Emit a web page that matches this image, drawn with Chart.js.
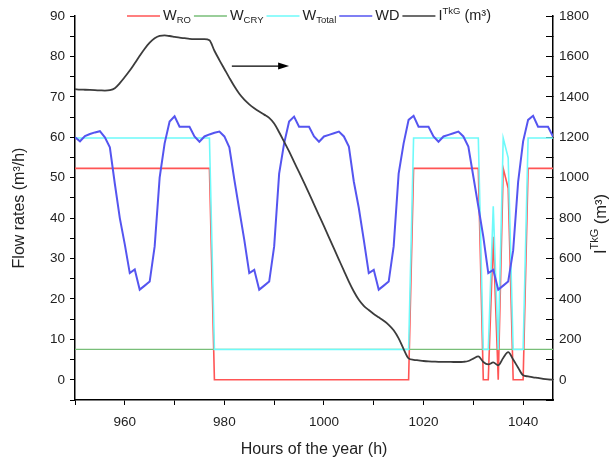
<!DOCTYPE html>
<html>
<head>
<meta charset="utf-8">
<script src="https://cdn.jsdelivr.net/npm/chart.js@4.4.0/dist/chart.umd.min.js"></script>
<style>
  html, body { margin: 0; padding: 0; background: #fff; }
</style>
</head>
<body>
<canvas id="chart" width="612" height="457"></canvas>
<script>
// Hours of the year (x values)
const hours = [
  950, 951, 952, 953, 954, 955, 956, 957, 958, 959,
  960, 961, 962, 963, 964, 965, 966, 967, 968, 969,
  970, 971, 972, 973, 974, 975, 976, 977, 978, 979,
  980, 981, 982, 983, 984, 985, 986, 987, 988, 989,
  990, 991, 992, 993, 994, 995, 996, 997, 998, 999,
  1000, 1001, 1002, 1003, 1004, 1005, 1006, 1007, 1008, 1009,
  1010, 1011, 1012, 1013, 1014, 1015, 1016, 1017, 1018, 1019,
  1020, 1021, 1022, 1023, 1024, 1025, 1026, 1027, 1028, 1029,
  1030, 1031, 1032, 1033, 1034, 1035, 1036, 1037, 1038, 1039,
  1040, 1041, 1042, 1043, 1044, 1045, 1046
];

// W_RO (m3/h)
const wRO = [
  52.3, 52.3, 52.3, 52.3, 52.3, 52.3, 52.3, 52.3, 52.3, 52.3,
  52.3, 52.3, 52.3, 52.3, 52.3, 52.3, 52.3, 52.3, 52.3, 52.3,
  52.3, 52.3, 52.3, 52.3, 52.3, 52.3, 52.3, 52.3, 0, 0,
  0, 0, 0, 0, 0, 0, 0, 0, 0, 0,
  0, 0, 0, 0, 0, 0, 0, 0, 0, 0,
  0, 0, 0, 0, 0, 0, 0, 0, 0, 0,
  0, 0, 0, 0, 0, 0, 0, 0, 52.3, 52.3,
  52.3, 52.3, 52.3, 52.3, 52.3, 52.3, 52.3, 52.3, 52.3, 52.3,
  52.3, 52.3, 0, 0, 35.4, 0, 52.3, 47.4, 0, 0,
  0, 52.3, 52.3, 52.3, 52.3, 52.3, 52.3
];

// W_CRY (m3/h)
const wCRY = [
  7.5, 7.5, 7.5, 7.5, 7.5, 7.5, 7.5, 7.5, 7.5, 7.5,
  7.5, 7.5, 7.5, 7.5, 7.5, 7.5, 7.5, 7.5, 7.5, 7.5,
  7.5, 7.5, 7.5, 7.5, 7.5, 7.5, 7.5, 7.5, 7.5, 7.5,
  7.5, 7.5, 7.5, 7.5, 7.5, 7.5, 7.5, 7.5, 7.5, 7.5,
  7.5, 7.5, 7.5, 7.5, 7.5, 7.5, 7.5, 7.5, 7.5, 7.5,
  7.5, 7.5, 7.5, 7.5, 7.5, 7.5, 7.5, 7.5, 7.5, 7.5,
  7.5, 7.5, 7.5, 7.5, 7.5, 7.5, 7.5, 7.5, 7.5, 7.5,
  7.5, 7.5, 7.5, 7.5, 7.5, 7.5, 7.5, 7.5, 7.5, 7.5,
  7.5, 7.5, 7.5, 7.5, 7.5, 7.5, 7.5, 7.5, 7.5, 7.5,
  7.5, 7.5, 7.5, 7.5, 7.5, 7.5, 7.5
];

// W_Total (m3/h)
const wTotal = [
  59.8, 59.8, 59.8, 59.8, 59.8, 59.8, 59.8, 59.8, 59.8, 59.8,
  59.8, 59.8, 59.8, 59.8, 59.8, 59.8, 59.8, 59.8, 59.8, 59.8,
  59.8, 59.8, 59.8, 59.8, 59.8, 59.8, 59.8, 59.8, 7.5, 7.5,
  7.5, 7.5, 7.5, 7.5, 7.5, 7.5, 7.5, 7.5, 7.5, 7.5,
  7.5, 7.5, 7.5, 7.5, 7.5, 7.5, 7.5, 7.5, 7.5, 7.5,
  7.5, 7.5, 7.5, 7.5, 7.5, 7.5, 7.5, 7.5, 7.5, 7.5,
  7.5, 7.5, 7.5, 7.5, 7.5, 7.5, 7.5, 7.5, 59.8, 59.8,
  59.8, 59.8, 59.8, 59.8, 59.8, 59.8, 59.8, 59.8, 59.8, 59.8,
  59.8, 59.8, 7.5, 7.5, 42.9, 7.5, 59.8, 54.9, 7.5, 7.5,
  7.5, 59.8, 59.8, 59.8, 59.8, 59.8, 59.8
];

// WD (m3/h)
const wd = [
  60.0, 59.0, 60.3, 60.8, 61.2, 61.5, 60.0, 57.5, 48.5, 40.0,
  33.5, 26.4, 27.3, 22.3, 23.3, 24.3, 33.0, 50.0, 58.5, 63.9,
  65.2, 62.6, 62.6, 62.6, 60.2, 58.9, 60.2, 60.7, 61.1, 61.4,
  60.2, 57.5, 49.5, 42.0, 34.6, 26.4, 27.2, 22.3, 23.3, 24.3,
  33.0, 51.0, 58.5, 63.9, 65.1, 62.6, 62.6, 62.6, 60.2, 58.9,
  60.2, 60.6, 61.0, 61.4, 60.2, 57.7, 49.0, 42.5, 34.6, 26.4,
  27.2, 22.3, 23.3, 24.3, 33.0, 51.0, 58.5, 64.3, 65.3, 62.6,
  62.6, 62.6, 60.2, 58.9, 60.2, 60.6, 61.0, 61.4, 60.2, 57.7,
  50.3, 42.9, 35.4, 26.4, 27.2, 22.3, 23.3, 24.3, 32.0, 49.0,
  59.0, 64.3, 65.3, 62.6, 62.6, 62.6, 60.2
];

// I^TkG (m3), right axis
const iTkG = [
  1438, 1436, 1435, 1434, 1433, 1432, 1431, 1433, 1443, 1468,
  1498, 1530, 1566, 1603, 1638, 1668, 1690, 1702, 1704, 1701,
  1697, 1693, 1690, 1687, 1686, 1686, 1686, 1680, 1628, 1582,
  1538, 1494, 1452, 1415, 1386, 1363, 1344, 1327, 1312, 1296,
  1268, 1225, 1178, 1130, 1078, 1027, 975, 922, 868, 814,
  760, 705, 650, 595, 540, 486, 437, 396, 366, 345,
  326, 309, 292, 272, 245, 205, 152, 106, 99, 96,
  93, 91, 90, 89, 89, 89, 88, 88, 89, 93,
  105, 116, 88, 76, 86, 72, 108, 137, 100, 60,
  22, 17, 12, 9, 5, 2, 0
];

// arrow pointing to the right axis (x in hours, y in left axis units)
const arrowFrom = 981.5;
const arrowTo = 993;
const arrowLevel = 77.6;

const FONT = "'Liberation Sans', Arial, sans-serif";
const TXT = '#222';

const RED = 'rgb(255,85,85)';
const GREEN = 'rgb(120,190,120)';
const CYAN = 'rgb(110,250,250)';
const BLUE = 'rgb(85,85,240)';
const BLACK = 'rgb(60,60,60)';

function pts(values) {
  return hours.map((h, i) => ({ x: h, y: values[i] }));
}

// draws text pieces one after another: [text, size, dy]
function richText(ctx, parts, x, y) {
  parts.forEach(([t, size, dy]) => {
    ctx.font = size + 'px ' + FONT;
    ctx.fillText(t, x, y + dy);
    x += ctx.measureText(t).width;
  });
  return x;
}

function richWidth(ctx, parts) {
  let w = 0;
  parts.forEach(([t, size]) => {
    ctx.font = size + 'px ' + FONT;
    w += ctx.measureText(t).width;
  });
  return w;
}

const legendItems = [
  { color: RED, parts: [['W', 14.5, 0], ['RO', 9.5, 4]] },
  { color: GREEN, parts: [['W', 14.5, 0], ['CRY', 9.5, 4]] },
  { color: CYAN, parts: [['W', 14.5, 0], ['Total', 9.5, 4]] },
  { color: BLUE, parts: [['WD', 14.5, 0]] },
  { color: BLACK, parts: [['I', 14.5, 0], ['TkG', 9.5, -5], [' (m³)', 14.5, 0]] }
];

const extras = {
  id: 'extras',
  afterDraw(chart) {
    const ctx = chart.ctx;
    const xs = chart.scales.x;
    const yl = chart.scales.y;
    ctx.save();

    // arrow
    const ax1 = xs.getPixelForValue(arrowFrom);
    const ax2 = xs.getPixelForValue(arrowTo);
    const ay = yl.getPixelForValue(arrowLevel);
    ctx.strokeStyle = '#000';
    ctx.fillStyle = '#000';
    ctx.lineWidth = 1.2;
    ctx.beginPath();
    ctx.moveTo(ax1, ay);
    ctx.lineTo(ax2 - 6, ay);
    ctx.stroke();
    ctx.beginPath();
    ctx.moveTo(ax2, ay);
    ctx.lineTo(ax2 - 11, ay - 3.5);
    ctx.lineTo(ax2 - 11, ay + 3.5);
    ctx.closePath();
    ctx.fill();

    // legend
    ctx.textBaseline = 'middle';
    ctx.textAlign = 'left';
    let x = 127;
    const ly = chart.chartArea.top;
    legendItems.forEach(item => {
      ctx.strokeStyle = item.color;
      ctx.lineWidth = 1.5;
      ctx.beginPath();
      ctx.moveTo(x, ly);
      ctx.lineTo(x + 33, ly);
      ctx.stroke();
      x += 36;
      ctx.fillStyle = TXT;
      x = richText(ctx, item.parts, x, ly) + 3;
    });

    // right axis title
    const rt = [['I', 16.5, 0], ['TkG', 11, -6], [' (m³)', 16.5, 0]];
    ctx.translate(601, 224);
    ctx.rotate(-Math.PI / 2);
    ctx.fillStyle = TXT;
    richText(ctx, rt, -richWidth(ctx, rt) / 2, 0);
    ctx.restore();
  }
};

function line(label, values, color, width, order, axis) {
  return {
    label,
    data: pts(values),
    borderColor: color,
    backgroundColor: color,
    borderWidth: width,
    pointRadius: 0,
    tension: 0,
    order,
    yAxisID: axis
  };
}

// drop the label overhang padding so the plot box is set by layout only
function noPad(s) {
  s.paddingTop = 0;
  s.paddingBottom = 0;
  s.paddingLeft = 0;
  s.paddingRight = 0;
}

const tickFont = { family: FONT, size: 13.5 };
const titleFont = { family: FONT, size: 16 };

new Chart(document.getElementById('chart'), {
  type: 'line',
  data: {
    datasets: [
      line('W_RO', wRO, RED, 1.6, 5, 'y'),
      line('W_CRY', wCRY, GREEN, 1.3, 4, 'y'),
      line('W_Total', wTotal, CYAN, 1.6, 3, 'y'),
      line('WD', wd, BLUE, 2, 2, 'y'),
      Object.assign(line('I_TkG', iTkG, BLACK, 1.8, 1, 'y1'), { cubicInterpolationMode: 'monotone' })
    ]
  },
  options: {
    responsive: false,
    animation: false,
    devicePixelRatio: 1,
    layout: { padding: { top: 16, left: 0, right: 0, bottom: 0 } },
    plugins: {
      legend: { display: false },
      tooltip: { enabled: false }
    },
    scales: {
      x: {
        type: 'linear',
        position: 'bottom',
        min: 950,
        max: 1046,
        afterFit(s) { s.height = 57; noPad(s); },
        ticks: {
          stepSize: 10,
          includeBounds: false,
          autoSkip: false,
          maxRotation: 0,
          padding: 9,
          color: TXT,
          font: tickFont,
          callback: v => (v % 20 === 0 ? String(v) : '')
        },
        grid: { drawOnChartArea: false, drawTicks: true, tickLength: 5, color: '#000', lineWidth: 1 },
        border: { display: true, color: '#000', width: 1.5 },
        title: { display: true, text: 'Hours of the year (h)', color: TXT, font: titleFont, padding: { top: 0, bottom: -2 } }
      },
      y: {
        position: 'left',
        min: -5,
        max: 90,
        afterFit(s) { s.width = 75; noPad(s); },
        ticks: {
          stepSize: 5,
          autoSkip: false,
          padding: 5,
          color: TXT,
          font: tickFont,
          callback: v => (v % 10 === 0 ? String(v) : '')
        },
        grid: { drawOnChartArea: false, drawTicks: true, tickLength: 5, color: '#000', lineWidth: 1 },
        border: { display: true, color: '#000', width: 1.5 },
        title: { display: true, text: 'Flow rates (m³/h)', color: TXT, font: titleFont, padding: { top: 10, bottom: 0 } }
      },
      y1: {
        position: 'right',
        min: -100,
        max: 1800,
        afterFit(s) { s.width = 59; noPad(s); },
        ticks: {
          stepSize: 100,
          autoSkip: false,
          padding: 13,
          color: TXT,
          font: tickFont,
          callback: v => (v % 200 === 0 && v >= 0 ? String(v) : '')
        },
        grid: { drawOnChartArea: false, drawTicks: true, tickLength: -7, color: '#000', lineWidth: 1 },
        border: { display: true, color: '#000', width: 1.5 },
        title: { display: false }
      }
    }
  },
  plugins: [extras]
});
</script>
</body>
</html>
